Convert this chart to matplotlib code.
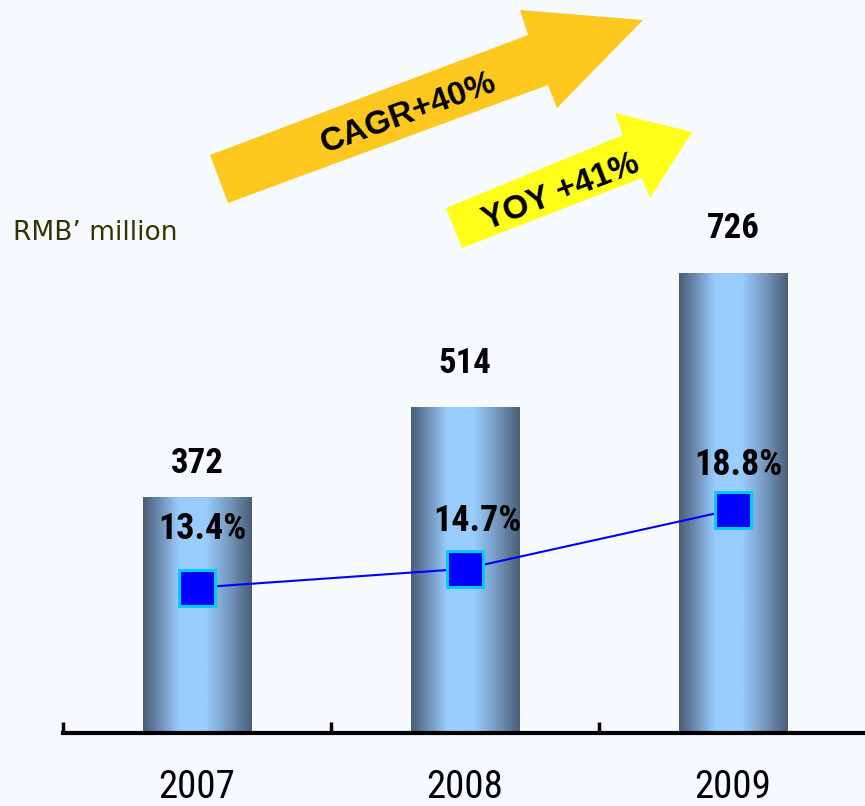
import numpy as np
import matplotlib
matplotlib.use("Agg")
import matplotlib.pyplot as plt
from matplotlib import font_manager
from matplotlib.colors import LinearSegmentedColormap
from matplotlib.patches import Polygon

# data
years = ["2007", "2008", "2009"]
revenue = [372, 514, 726]          # RMB million
margin = [13.4, 14.7, 18.8]        # %
margin_labels = ["13.4%", "14.7%", "18.8%"]

W, H = 865, 806
BG = "#F7FBFF"

fonts = font_manager.fontManager.ttflist


def wnum(w):
    return w if isinstance(w, (int, float)) else font_manager.weight_dict.get(w, 400)


def pick(bold):
    # narrow face with the wanted weight, else plain Liberation Sans
    prefs = ["Liberation Sans Narrow", "DejaVu Sans Condensed", "Roboto Condensed",
             "Open Sans Condensed", "Noto Sans Condensed", "Arial Narrow"]
    for name in prefs:
        for f in fonts:
            if f.name == name and (wnum(f.weight) >= 600) == bold:
                return dict(family=name), 1.0
    for f in fonts:
        if f.name == "DejaVu Sans" and f.stretch == "condensed" and (wnum(f.weight) >= 600) == bold:
            return dict(family="DejaVu Sans", stretch="condensed"), 1.0
    return dict(family="Liberation Sans"), 0.9


reg_font, k_reg = pick(False)
bold_font, k_bold = pick(True)


def fpx(x, y):
    # image pixel -> figure fraction
    return x / W, 1 - y / H


fig = plt.figure(figsize=(W / 100, H / 100), dpi=100, facecolor=BG)
ax = fig.add_axes([63 / W, (H - 732.5) / H, (W - 63) / W, 732.5 / H])
ax.set_facecolor("none")

x = np.arange(len(years))
bar_w = 0.403
bars = ax.bar(x, revenue, width=bar_w, color="none", edgecolor="none")

cmap = LinearSegmentedColormap.from_list("cyl", [
    (0.0, "#4A5E78"), (0.12, "#6682A6"), (0.33, "#99CCFF"),
    (0.58, "#99CCFF"), (0.82, "#7090B4"), (1.0, "#4A5E78")])
grad = np.linspace(0, 1, 256).reshape(1, -1)
for b in bars:
    im = ax.imshow(grad, cmap=cmap, aspect="auto", zorder=1,
                   extent=[b.get_x(), b.get_x() + b.get_width(), 0, b.get_height()])
    im.set_clip_path(b)

ax.set_xlim(-0.5, -0.5 + (W - 63) / 268)
ax.set_ylim(0, 1158)

for s in ["top", "left", "right"]:
    ax.spines[s].set_visible(False)
ax.spines["bottom"].set_linewidth(3)
ax.spines["bottom"].set_zorder(3)
ax.set_yticks([])
ax.set_xticks(np.arange(-0.5, len(years) - 1, 1))
ax.set_xticklabels([])
ax.tick_params(axis="x", which="major", direction="in", length=8, width=2.5)
ax.set_xticks(x, minor=True)
ax.set_xticklabels(years, minor=True, fontsize=28 * k_reg, **reg_font)
ax.tick_params(axis="x", which="minor", length=0, pad=26)

val_dy = [24, 34, 35]
for xi, v, dy in zip(x, revenue, val_dy):
    ax.annotate(str(v), (xi, v), xytext=(0, dy * 0.72), textcoords="offset points",
                ha="center", va="baseline", fontsize=25 * k_bold, fontweight="bold",
                **bold_font)

ax2 = ax.twinx()
ax2.set_facecolor("none")
ax2.set_xlim(ax.get_xlim())
ax2.set_ylim(3.36, 54.1)
ax2.axis("off")
ax2.plot(x, margin, color="#0000FF", lw=1.5, marker="s", markersize=26,
         markerfacecolor="#0000FF", markeredgecolor="#00CCFF", markeredgewidth=2.2,
         zorder=4)

pct_off = [(5.5, 48.5), (12, 38), (5, 34.5)]
for xi, v, lab, (dx, dy) in zip(x, margin, margin_labels, pct_off):
    ax2.annotate(lab, (xi, v), xytext=(dx * 0.72, dy * 0.72), textcoords="offset points",
                 ha="center", va="baseline", fontsize=26 * k_bold, fontweight="bold",
                 **bold_font)

fig.text(*fpx(13, 239.5), "RMB\u2019 million", fontsize=19, color="#333300",
         ha="left", va="baseline", family="DejaVu Sans")

# growth arrows
cagr = [(210, 155), (528, 35), (520, 10), (643, 20), (557, 108), (548, 85), (228, 203)]
yoy = [(446, 208), (623, 135), (615, 113), (692, 132), (650, 198), (642, 178), (462, 248)]
fig.add_artist(Polygon([fpx(*p) for p in cagr], closed=True, transform=fig.transFigure,
                       facecolor="#FFC81E", edgecolor="none"))
fig.add_artist(Polygon([fpx(*p) for p in yoy], closed=True, transform=fig.transFigure,
                       facecolor="#FFFF19", edgecolor="none"))
fig.text(*fpx(408, 113), "CAGR+40%", rotation=20, rotation_mode="anchor",
         ha="center", va="center", fontsize=24, fontweight="bold", family="Liberation Sans")
fig.text(*fpx(561, 192), "YOY +41%", rotation=21, rotation_mode="anchor",
         ha="center", va="center", fontsize=24, fontweight="bold", family="Liberation Sans")

fig.savefig("out.png", dpi=100, facecolor=BG)
